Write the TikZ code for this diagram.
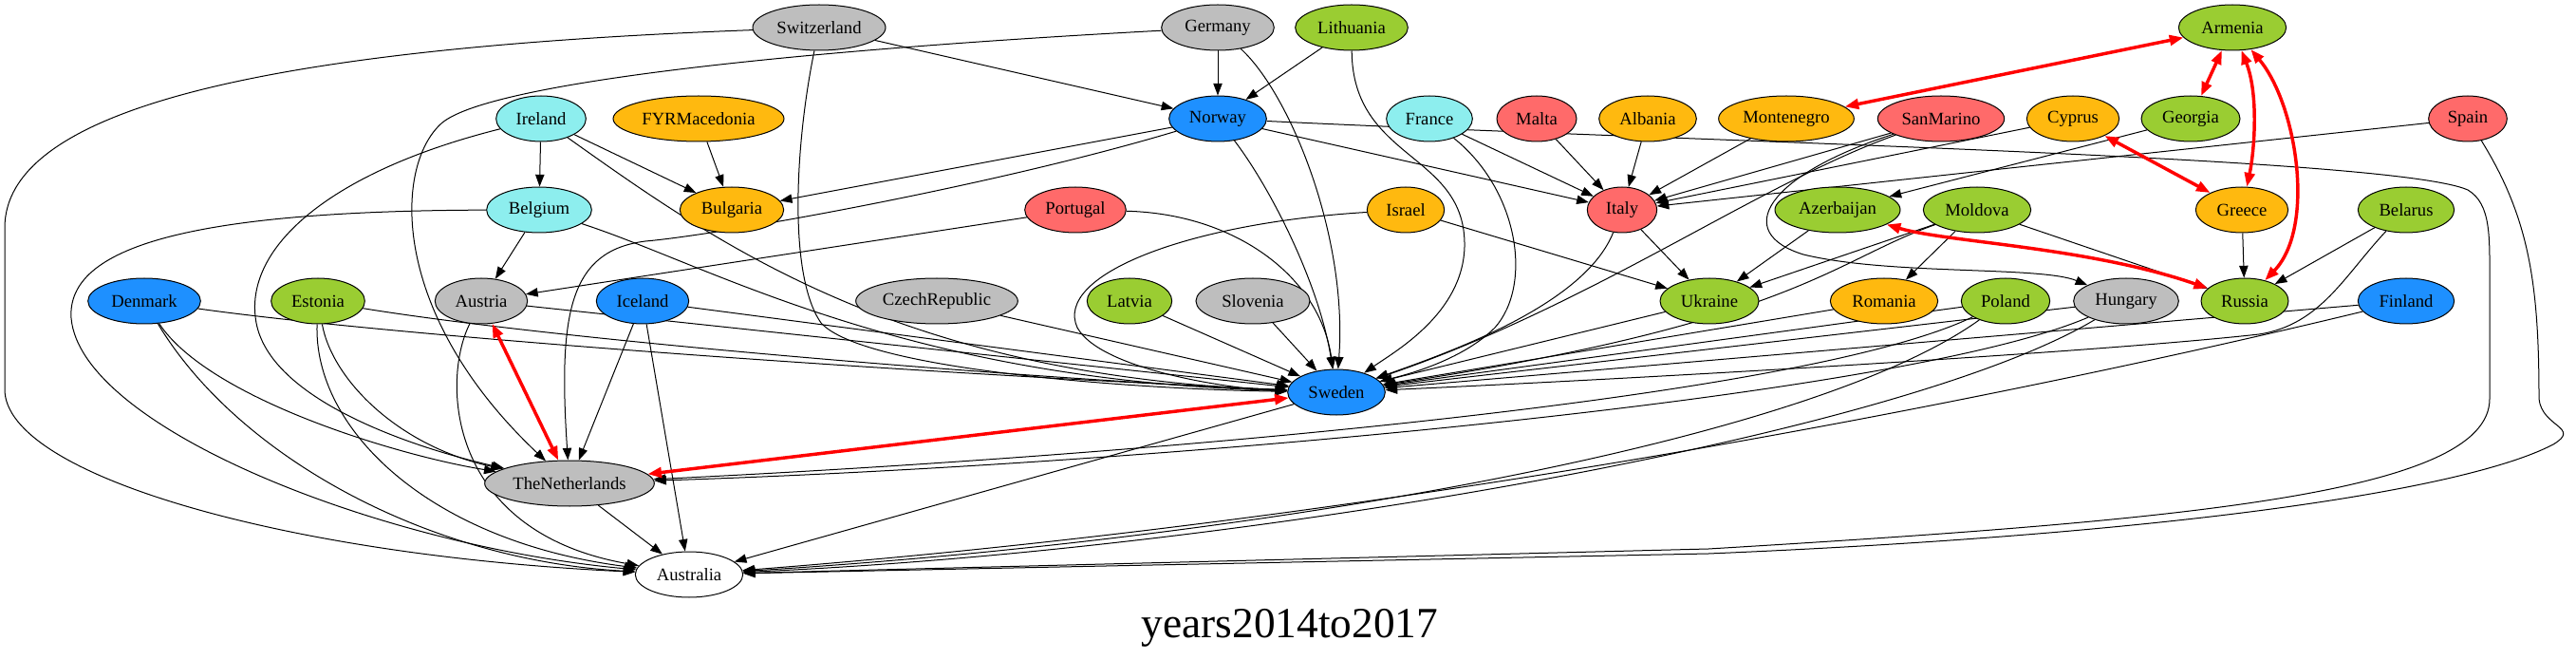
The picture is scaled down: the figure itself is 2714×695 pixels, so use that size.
\documentclass[tikz,border=0pt]{standalone}
\usepackage{fontspec}
\setmainfont{Liberation Serif}
\usetikzlibrary{shapes.geometric,arrows.meta}
\definecolor{cblue}{HTML}{1E90FF}
\definecolor{ccyan}{HTML}{8DEEEE}
\definecolor{cgray}{HTML}{BEBEBE}
\definecolor{cgreen}{HTML}{9ACD32}
\definecolor{corange}{HTML}{FFB90F}
\definecolor{cred}{HTML}{FF6A6A}
\pgfdeclarelayer{bglayer}
\pgfdeclarelayer{edgelayer}
\pgfsetlayers{bglayer,edgelayer,main}
\tikzset{
  cn/.style={ellipse, draw=black, line width=0.75pt, inner sep=0pt, minimum height=36pt, font=\fontsize{14}{16}\selectfont},
  nb/.style={cn, fill=cblue},
  nc/.style={cn, fill=ccyan},
  ng/.style={cn, fill=cgray},
  ngr/.style={cn, fill=cgreen},
  no/.style={cn, fill=corange},
  nr/.style={cn, fill=cred},
  nw/.style={cn, fill=white},
  e/.style={draw=black, line width=0.75pt, -{Triangle[length=9.5pt,width=7pt]}},
  re/.style={draw=red, line width=2.6pt, {Triangle[length=11pt,width=8pt]}-{Triangle[length=11pt,width=8pt]}},
}
\begin{document}
\begin{tikzpicture}[x=0.75pt,y=-0.75pt]
\begin{pgfonlayer}{bglayer}
\fill[white] (0,0) rectangle (2714,695);
\end{pgfonlayer}
\useasboundingbox (0,0) rectangle (2714,695);
% row 1
\node[ng, minimum width=105pt] (Switzerland) at (863,29) {Switzerland};
\node[ng, minimum width=89pt] (Germany) at (1283,29) {Germany};
\node[ngr, minimum width=89pt] (Lithuania) at (1424,29) {Lithuania};
\node[ngr, minimum width=85pt] (Armenia) at (2352,29) {Armenia};
% row 2
\node[nc, minimum width=71pt] (Ireland) at (570,125) {Ireland};
\node[no, minimum width=135pt] (FYRMacedonia) at (736,125) {FYRMacedonia};
\node[nb, minimum width=77pt] (Norway) at (1283,125) {Norway};
\node[nc, minimum width=68pt] (France) at (1506,125) {France};
\node[nr, minimum width=63pt] (Malta) at (1619,125) {Malta};
\node[no, minimum width=77pt] (Albania) at (1736,125) {Albania};
\node[no, minimum width=107pt] (Montenegro) at (1882,125) {Montenegro};
\node[nr, minimum width=100pt] (SanMarino) at (2045,125) {SanMarino};
\node[no, minimum width=73pt] (Cyprus) at (2184,125) {Cyprus};
\node[ngr, minimum width=78pt] (Georgia) at (2308,125) {Georgia};
\node[nr, minimum width=62pt] (Spain) at (2600,125) {Spain};
% row 3
\node[nc, minimum width=83pt] (Belgium) at (568,221) {Belgium};
\node[no, minimum width=82pt] (Bulgaria) at (771,221) {Bulgaria};
\node[nr, minimum width=80pt] (Portugal) at (1133,221) {Portugal};
\node[no, minimum width=61pt] (Israel) at (1481,221) {Israel};
\node[nr, minimum width=55pt] (Italy) at (1709,221) {Italy};
\node[ngr, minimum width=99pt] (Azerbaijan) at (1936,221) {Azerbaijan};
\node[ngr, minimum width=85pt] (Moldova) at (2083,221) {Moldova};
\node[no, minimum width=73pt] (Greece) at (2362,221) {Greece};
\node[ngr, minimum width=76pt] (Belarus) at (2535,221) {Belarus};
% row 4
\node[nb, minimum width=89pt] (Denmark) at (152,317) {Denmark};
\node[ngr, minimum width=74pt] (Estonia) at (335,317) {Estonia};
\node[ng, minimum width=73pt] (Austria) at (507,317) {Austria};
\node[nb, minimum width=73pt] (Iceland) at (677,317) {Iceland};
\node[ng, minimum width=128pt] (CzechRepublic) at (987,317) {CzechRepublic};
\node[ngr, minimum width=67pt] (Latvia) at (1190,317) {Latvia};
\node[ng, minimum width=90pt] (Slovenia) at (1320,317) {Slovenia};
\node[ngr, minimum width=78pt] (Ukraine) at (1801,317) {Ukraine};
\node[no, minimum width=85pt] (Romania) at (1985,317) {Romania};
\node[ngr, minimum width=70pt] (Poland) at (2113,317) {Poland};
\node[ng, minimum width=83pt] (Hungary) at (2240,317) {Hungary};
\node[ngr, minimum width=69pt] (Russia) at (2365,317) {Russia};
\node[nb, minimum width=76pt] (Finland) at (2535,317) {Finland};
% lower
\node[nb, minimum width=77pt] (Sweden) at (1408,413) {Sweden};
\node[ng, minimum width=134pt] (TheNetherlands) at (600,509) {TheNetherlands};
\node[nw, minimum width=85pt] (Australia) at (726,605) {Australia};
\node[font=\fontsize{34}{40}\selectfont] (title) at (1359,661) {years2014to2017};

\begin{pgfonlayer}{edgelayer}
% Switzerland
\draw[e] (Switzerland) -- (Norway);
\draw[e] (Switzerland) .. controls (300,50) and (5,110) .. (5,240) -- (5,410) .. controls (5,500) and (300,585) .. (Australia);
\draw[e] (Switzerland) .. controls (838,150) and (830,290) .. (865,340) .. controls (910,390) and (1200,410) .. (Sweden);
% Germany
\draw[e] (Germany) -- (Norway);
\draw[e] (Germany) .. controls (1360,100) and (1420,250) .. (Sweden);
\draw[e] (Germany) .. controls (800,55) and (510,90) .. (465,130) .. controls (415,175) and (410,330) .. (TheNetherlands);
% Lithuania
\draw[e] (Lithuania) -- (Norway);
\draw[e] (Lithuania) .. controls (1425,170) and (1545,160) .. (1543,260) .. controls (1541,330) and (1470,370) .. (Sweden);
% Norway
\draw[e] (Norway) -- (Bulgaria);
\draw[e] (Norway) .. controls (1050,195) and (760,247) .. (680,254) .. controls (600,264) and (588,330) .. (TheNetherlands);
\draw[e] (Norway) -- (Italy);
\draw[e] (Norway) .. controls (1340,200) and (1390,300) .. (Sweden);
\draw[e] (Norway) .. controls (1800,150) and (2520,165) .. (2600,200) .. controls (2625,215) and (2623,250) .. (2623,300) -- (2623,420) .. controls (2623,520) and (2300,548) .. (1800,578) -- (Australia);
% Ireland
\draw[e] (Ireland) -- (Belgium);
\draw[e] (Ireland) -- (Bulgaria);
\draw[e] (Ireland) .. controls (760,260) and (950,395) .. (Sweden);
\draw[e] (Ireland) .. controls (350,180) and (255,260) .. (270,340) .. controls (285,420) and (430,470) .. (TheNetherlands);
\draw[e] (FYRMacedonia) -- (Bulgaria);
% Belgium
\draw[e] (Belgium) -- (Austria);
\draw[e] (Belgium) .. controls (750,280) and (950,400) .. (Sweden);
\draw[e] (Belgium) .. controls (200,222) and (70,260) .. (75,335) .. controls (85,450) and (400,575) .. (Australia);
% Portugal, Israel, France, Italy
\draw[e] (Portugal) -- (Austria);
\draw[e] (Portugal) .. controls (1300,225) and (1390,290) .. (Sweden);
\draw[e] (Israel) -- (Ukraine);
\draw[e] (Israel) .. controls (1250,235) and (1110,290) .. (1135,345) .. controls (1160,390) and (1300,410) .. (Sweden);
\draw[e] (France) -- (Italy);
\draw[e] (France) .. controls (1600,200) and (1615,300) .. (1575,345) .. controls (1540,380) and (1480,395) .. (Sweden);
\draw[e] (Malta) -- (Italy);
\draw[e] (Albania) -- (Italy);
\draw[e] (Italy) -- (Ukraine);
\draw[e] (Italy) .. controls (1670,320) and (1530,370) .. (Sweden);
% Montenegro, SanMarino, Cyprus, Spain, Georgia
\draw[e] (Montenegro) -- (Italy);
\draw[e] (SanMarino) -- (Italy);
\draw[e] (SanMarino) .. controls (1850,195) and (1680,320) .. (Sweden);
\draw[e] (SanMarino) .. controls (1860,185) and (1825,245) .. (1900,268) .. controls (1990,290) and (2150,280) .. (Hungary);
\draw[e] (Cyprus) -- (Italy);
\draw[e] (Spain) -- (Italy);
\draw[e] (Spain) .. controls (2665,230) and (2675,300) .. (2675,420) .. controls (2678,450) and (2720,450) .. (2690,468) .. controls (2600,515) and (2300,562) .. (1800,583) -- (Australia);
\draw[e] (Georgia) -- (Azerbaijan);
% Azerbaijan, Moldova, Greece, Belarus
\draw[e] (Azerbaijan) -- (Ukraine);
\draw[e] (Moldova) -- (Ukraine);
\draw[e] (Moldova) -- (Romania);
\draw[e] (Moldova) -- (Russia);
\draw[e] (Moldova) .. controls (1930,275) and (1890,340) .. (Sweden);
\draw[e] (Greece) -- (Russia);
\draw[e] (Belarus) -- (Russia);
\draw[e] (Belarus) .. controls (2470,290) and (2445,342) .. (2380,352) .. controls (2200,372) and (1700,400) .. (Sweden);
% bottom row
\draw[e] (Denmark) .. controls (400,352) and (900,390) .. (Sweden);
\draw[e] (Denmark) .. controls (220,420) and (420,480) .. (TheNetherlands);
\draw[e] (Denmark) .. controls (250,480) and (450,590) .. (Australia);
\draw[e] (Estonia) .. controls (600,360) and (1100,400) .. (Sweden);
\draw[e] (Estonia) .. controls (350,400) and (420,470) .. (TheNetherlands);
\draw[e] (Estonia) .. controls (330,450) and (450,570) .. (Australia);
\draw[e] (Austria) -- (Sweden);
\draw[e] (Austria) .. controls (465,400) and (470,560) .. (Australia);
\draw[e] (Iceland) -- (Sweden);
\draw[e] (Iceland) -- (TheNetherlands);
\draw[e] (Iceland) -- (Australia);
\draw[e] (CzechRepublic) -- (Sweden);
\draw[e] (Latvia) -- (Sweden);
\draw[e] (Slovenia) -- (Sweden);
\draw[e] (Ukraine) -- (Sweden);
\draw[e] (Romania) -- (Sweden);
\draw[e] (Poland) -- (Sweden);
\draw[e] (Hungary) -- (Sweden);
\draw[e] (Finland) -- (Sweden);
\draw[e] (Poland) .. controls (1900,420) and (1200,480) .. (TheNetherlands);
\draw[e] (Hungary) .. controls (2000,420) and (1200,490) .. (TheNetherlands);
\draw[e] (Poland) .. controls (1900,470) and (1300,570) .. (Australia);
\draw[e] (Hungary) .. controls (2000,460) and (1300,580) .. (Australia);
\draw[e] (Finland) .. controls (2150,410) and (1500,545) .. (Australia);
\draw[e] (Sweden) -- (Australia);
\draw[e] (TheNetherlands) -- (Australia);
% red
\draw[re] (Armenia) -- (Montenegro);
\draw[re] (Armenia) -- (Georgia);
\draw[re] (Armenia) .. controls (2380,100) and (2375,160) .. (Greece);
\draw[re] (Armenia) .. controls (2420,110) and (2440,240) .. (Russia);
\draw[re] (Cyprus) -- (Greece);
\draw[re] (Azerbaijan) .. controls (2050,255) and (2200,260) .. (Russia);
\draw[re] (Austria) -- (TheNetherlands);
\draw[re] (Sweden) -- (TheNetherlands);
\end{pgfonlayer}
\end{tikzpicture}
\end{document}
